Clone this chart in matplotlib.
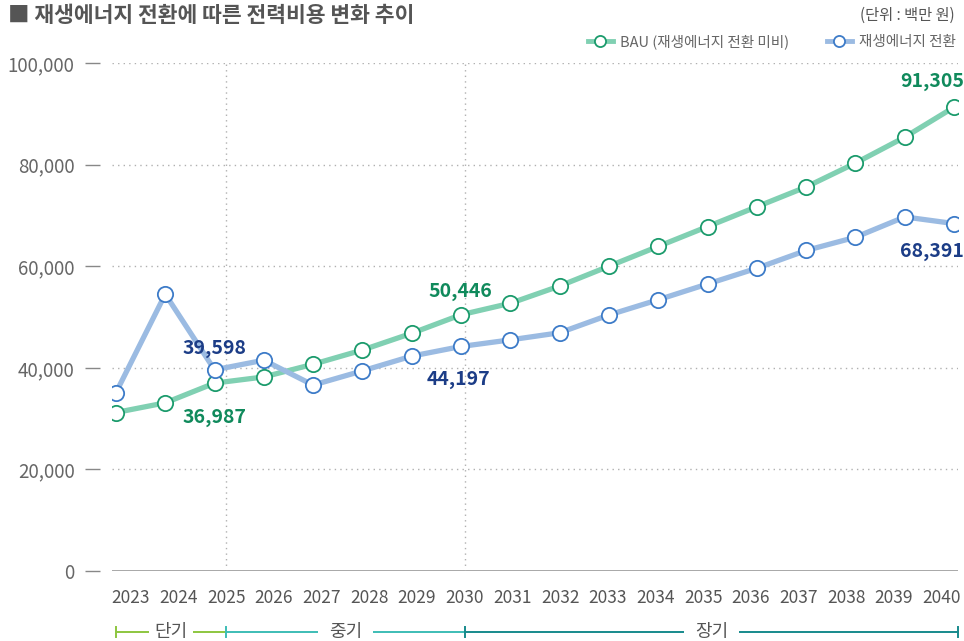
import matplotlib
matplotlib.use('Agg')
import matplotlib.pyplot as plt
import matplotlib.transforms as mtransforms
from matplotlib.lines import Line2D
import numpy as np

plt.rcParams['font.family'] = ['Noto Sans CJK KR', 'DejaVu Sans']

# data (백만 원)
years = [2023, 2024, 2025, 2026, 2027, 2028, 2029, 2030, 2031, 2032,
         2033, 2034, 2035, 2036, 2037, 2038, 2039, 2040]
bau = [31200, 33100, 36987, 38200, 40700, 43500, 46800, 50446, 52700, 56100,
       60000, 63900, 67800, 71700, 75600, 80300, 85400, 91305]
renew = [35100, 54500, 39598, 41500, 36600, 39400, 42300, 44197, 45500, 46900,
         50400, 53400, 56500, 59600, 63100, 65700, 69700, 68391]
y_ticks = [0, 20000, 40000, 60000, 80000, 100000]
periods = ['단기', '중기', '장기']

C_BAU_LINE = '#80d0b2'
C_BAU_EDGE = '#1b9b6c'
C_BAU_TEXT = '#108a5c'
C_REN_LINE = '#9bbbe2'
C_REN_EDGE = '#3d7bc8'
C_REN_TEXT = '#1c3d87'
C_PERIOD = ['#8dc63f', '#3dbdb6', '#178a8c']
GRAY = '#666666'

fig = plt.figure(figsize=(9.64, 6.41), dpi=100)
ax = fig.add_axes([112 / 964, 70 / 641, 846 / 964, 508 / 641])

x = np.arange(len(years))
# tick labels sit on a slightly tighter grid than the points
label_pos = np.linspace(0.30, 16.75, len(years))

ax.plot(x, bau, color=C_BAU_LINE, lw=3.8, marker='o', ms=11, mfc='white',
        mec=C_BAU_EDGE, mew=1.3, zorder=3)
ax.plot(x, renew, color=C_REN_LINE, lw=3.8, marker='o', ms=11, mfc='white',
        mec=C_REN_EDGE, mew=1.3, zorder=4)

ax.set_xlim(-0.08, 17.08)
ax.set_ylim(0, 100000)

# grid
for t in y_ticks[1:]:
    ax.axhline(t, color='#b0b0b0', lw=1, ls=(0, (1, 3)), zorder=1)
ax.axhline(0, color='#999999', lw=1.2, zorder=1)
for yr in [2025, 2030]:
    ax.axvline(label_pos[years.index(yr)], color='#b0b0b0', lw=1, ls=(0, (1, 3)), zorder=1)

for s in ax.spines.values():
    s.set_visible(False)
ax.spines['left'].set_position(('outward', 9))

ax.set_yticks(y_ticks)
ax.set_yticklabels([f'{v:,}' for v in y_ticks])
ax.tick_params(axis='y', length=11, width=1, color='#888888', pad=7,
               labelsize=13.5, labelcolor=GRAY)
ax.set_xticks(label_pos)
ax.set_xticklabels([str(y) for y in years])
ax.tick_params(axis='x', length=0, pad=13, labelsize=12.5, labelcolor='#555555')
for lab in ax.get_yticklabels() + ax.get_xticklabels():
    lab.set_fontweight('medium')

# value labels
def note(xi, yv, txt, color, dx, dy):
    ax.annotate(txt, (xi, yv), xytext=(dx / 1.389, dy / 1.389), textcoords='offset points',
                ha='center', va='center', fontsize=14, fontweight='bold', color=color, zorder=6)

i25, i30, i40 = years.index(2025), years.index(2030), years.index(2040)
note(i25, renew[i25], f'{renew[i25]:,}', C_REN_TEXT, 0, 21)
note(i25, bau[i25], f'{bau[i25]:,}', C_BAU_TEXT, 0, -34)
note(i30, bau[i30], f'{bau[i30]:,}', C_BAU_TEXT, -1, 23)
note(i30, renew[i30], f'{renew[i30]:,}', C_REN_TEXT, -3, -33)
note(i40, bau[i40], f'{bau[i40]:,}', C_BAU_TEXT, -22, 26)
note(i40, renew[i40], f'{renew[i40]:,}', C_REN_TEXT, -22, -28)

# period bar under the axis
trans = mtransforms.blended_transform_factory(ax.transData, fig.transFigure)
yb = 1 - 632 / 641
bounds = [0, label_pos[i25], label_pos[i30], 17.08]
for k, name in enumerate(periods):
    x0, x1 = bounds[k], bounds[k + 1]
    ax.plot([x0, x1], [yb, yb], color=C_PERIOD[k], lw=1.4, transform=trans, clip_on=False)
    ax.plot([x0, x0], [yb - 0.008, yb + 0.008], color=C_PERIOD[k], lw=1.4,
            transform=trans, clip_on=False)
    ax.text((x0 + x1) / 2, yb, name, transform=trans, ha='center', va='center',
            fontsize=13, color='#555555', fontweight='medium',
            bbox=dict(facecolor='white', edgecolor='none', pad=4 if k == 0 else 8))
ax.plot([bounds[-1]] * 2, [yb - 0.008, yb + 0.008], color=C_PERIOD[-1], lw=1.4,
        transform=trans, clip_on=False)

# title, unit, legend
fig.text(8 / 964, 1 - 15 / 641, '■ 재생에너지 전환에 따른 전력비용 변화 추이',
         fontsize=15.5, fontweight='bold', color='#555555', ha='left', va='center')
fig.text(955 / 964, 1 - 15 / 641, '(단위 : 백만 원)', fontsize=11, color='#555555',
         ha='right', va='center')

handles = [Line2D([], [], color=C_BAU_LINE, lw=3.5, marker='o', ms=8, mfc='white',
                  mec=C_BAU_EDGE, mew=1.3),
           Line2D([], [], color=C_REN_LINE, lw=3.5, marker='o', ms=8, mfc='white',
                  mec=C_REN_EDGE, mew=1.3)]
leg = fig.legend(handles, ['BAU (재생에너지 전환 미비)', '재생에너지 전환'], ncol=2,
                 frameon=False, loc='center right', bbox_to_anchor=(956 / 964, 1 - 42 / 641),
                 borderaxespad=0, borderpad=0,
                 fontsize=10.5, handlelength=1.7, handletextpad=0.5, columnspacing=2.6)
for t in leg.get_texts():
    t.set_color('#666666')

fig.savefig('out.png', dpi=100)
